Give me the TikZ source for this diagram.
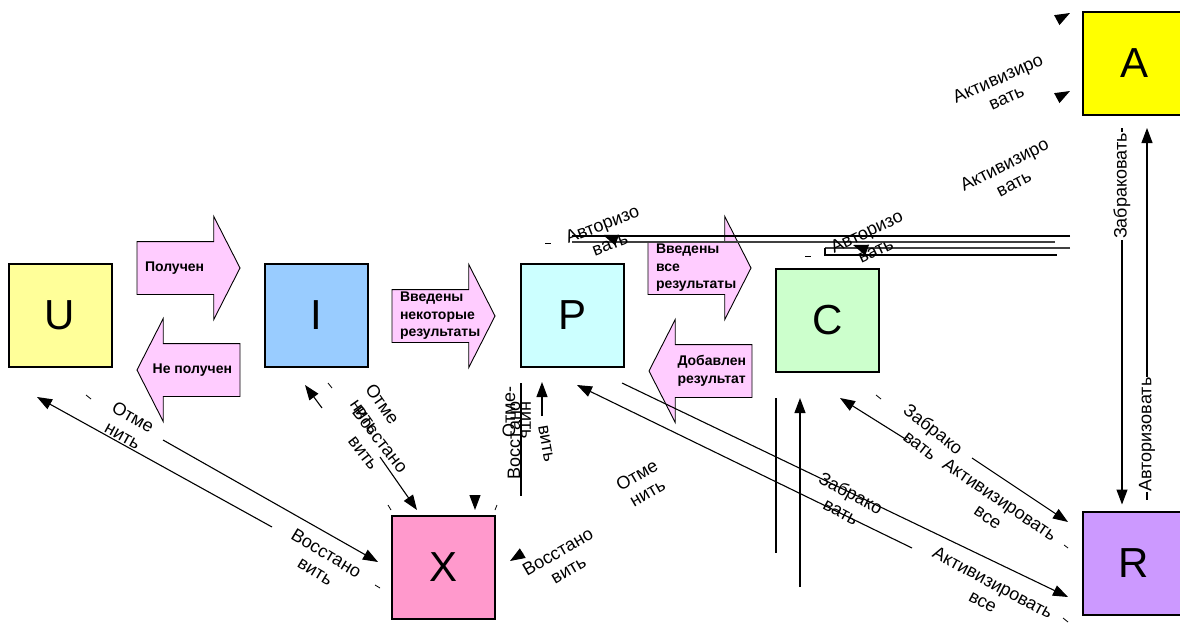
\documentclass[tikz,border=0pt]{standalone}
\usepackage{fontspec}
\setmainfont{Liberation Sans}
\usetikzlibrary{arrows.meta, shapes.arrows, positioning}
\definecolor{uyellow}{HTML}{FFFF99}
\definecolor{iblue}{HTML}{99CCFF}
\definecolor{pcyan}{HTML}{CCFFFF}
\definecolor{cgreen}{HTML}{CCFFCC}
\definecolor{ayellow}{HTML}{FFFF00}
\definecolor{rviolet}{HTML}{CC99FF}
\definecolor{xpink}{HTML}{FF99CC}
\definecolor{apink}{HTML}{FFCCFF}
\begin{document}
\begin{tikzpicture}[x=1pt, y=-1pt, inner sep=0pt, outer sep=0pt,
  state/.style={rectangle, draw=black, line width=2, minimum width=103, minimum height=103, font=\fontsize{42}{48}\selectfont},
  barrow/.style={single arrow, draw=black, line width=0.9, fill=apink, inner xsep=0pt, inner ysep=26pt, minimum height=103, single arrow head extend=25pt, single arrow tip angle=126, single arrow head indent=0pt, anchor=tip},
  btext/.style={align=left, font=\bfseries\fontsize{14}{17.5}\selectfont},
  lbl/.style={align=center, font=\fontsize{18}{21}\selectfont},
  conn/.style={line width=1.1, -{Triangle[length=15pt, width=11pt]}},
  wire/.style={line width=1.1},
  tick/.style={line width=0.8}]
\useasboundingbox (0,0) rectangle (1180,626);
% states
\node[state, fill=uyellow] (U) at (60,315.5) {U};
\node[state, fill=iblue] (I) at (316.5,315.5) {I};
\node[state, fill=pcyan] (P) at (572,315) {P};
\node[state, fill=cgreen] (C) at (827.5,320) {C};
\node[state, fill=ayellow] (A) at (1134,63.5) {A};
\node[state, fill=rviolet] (R) at (1134,563) {R};
\node[state, fill=xpink] (X) at (443.5,567) {X};
% block arrows
\node[barrow] (Got) at (240,268) {};
\node[barrow, shape border rotate=180] (NotGot) at (137,370) {};
\node[barrow] (SomeIn) at (495,316) {};
\node[barrow] (AllIn) at (751,268) {};
\node[barrow, shape border rotate=180] (Added) at (649,371) {};
\node[btext, right=8pt of Got.tail] (tGot) {Получен};
\node[btext, left=8pt of NotGot.tail] (tNotGot) {Не получен};
\node[btext, right=8pt of SomeIn.tail] (tSomeIn) {Введены\\некоторые\\результаты};
\node[btext, right=8pt of AllIn.tail] (tAllIn) {Введены\\все\\результаты};
\node[btext, left=6pt of Added.tail] (tAdded) {Добавлен\\результат};
% free ends
\coordinate (ux1) at (272,527); \coordinate (ux2) at (37,397);
\coordinate (ux3) at (163,440); \coordinate (ux4) at (378,562);
\coordinate (ix1) at (322,408); \coordinate (ix2) at (305,385);
\coordinate (ix3) at (380,457); \coordinate (ix4) at (417,510);
\coordinate (xt1) at (475,495); \coordinate (xt2) at (475,510);
\coordinate (xp1) at (521,383); \coordinate (xp2) at (521,496);
\coordinate (px1) at (542,416); \coordinate (px2) at (542,382);
\coordinate (xr1) at (523,553); \coordinate (xr2) at (510,561);
\coordinate (pr1) at (622,383); \coordinate (pr2) at (1068,597);
\coordinate (pr3) at (912,548); \coordinate (pr4) at (577,385);
\coordinate (cr1) at (907,440); \coordinate (cr2) at (840,398);
\coordinate (cr3) at (972,458); \coordinate (cr4) at (1068,522);
\coordinate (cv1) at (776,398); \coordinate (cv2) at (776,553);
\coordinate (cv3) at (800,587); \coordinate (cv4) at (800,398);
\coordinate (ta1) at (1070,236); \coordinate (ta2) at (572,236);
\coordinate (ta3) at (1055,242); \coordinate (ta4) at (572,242);
\coordinate (ta5) at (617,240); \coordinate (ta6) at (603,235);
\coordinate (tc1) at (1070,248); \coordinate (tc2) at (825,248);
\coordinate (tc3) at (1057,255); \coordinate (tc4) at (825,255);
\coordinate (tc5) at (867,250); \coordinate (tc6) at (853,245);
\coordinate (ra1) at (1057,20); \coordinate (ra2) at (1070,13);
\coordinate (ra3) at (1057,98); \coordinate (ra4) at (1070,91);
% connectors
\draw[conn] (ux1) -- (ux2);
\draw[conn] (ux3) -- (ux4);
\draw[conn] (ix1) -- (ix2);
\draw[conn] (ix3) -- (ix4);
\draw[conn] (xt1) -- (xt2);
\draw[wire] (xp1) -- (xp2);
\draw[conn] (px1) -- (px2);
\draw[conn] (xr1) -- (xr2);
\draw[conn] (pr1) -- (pr2);
\draw[conn] (pr3) -- (pr4);
\draw[conn] (cr1) -- (cr2);
\draw[conn] (cr3) -- (cr4);
\draw[wire] (cv1) -- (cv2);
\draw[conn] (cv3) -- (cv4);
\draw[wire] (ta1) -- (ta2);
\draw[wire, draw=black!75, line width=1.5] (ta3) -- (ta4);
\draw[conn] (ta5) -- (ta6);
\draw[wire, draw=black!75, line width=1.5] (tc1) -- (tc2);
\draw[wire] (tc2) -- (tc4) -- (tc3);
\draw[conn] (tc5) -- (tc6);
\draw[conn] (ra1) -- (ra2);
\draw[conn] (ra3) -- (ra4);
\draw[conn] ([xshift=-12pt, yshift=-13pt]A.south) -- ([xshift=-12pt, yshift=7pt]R.north)
  node[lbl, pos=0.154, rotate=90, fill=white, inner sep=1pt] (lAR) {Забраковать};
\draw[conn] ([xshift=13pt, yshift=12pt]R.north) -- ([xshift=13pt, yshift=-13pt]A.south)
  node[lbl, pos=0.175, rotate=90, fill=white, inner sep=1pt] (lRA) {Авторизовать};
% ticks
\draw[tick] (86,395) -- (91,399);
\draw[tick] (328,383) -- (332,388);
\draw[tick] (388,505) -- (391,510);
\draw[tick] (497,505) -- (495,510);
\draw[tick] (375,585) -- (380,588);
\draw[tick] (876,395) -- (881,399);
\draw[tick] (1064,545) -- (1068,548);
\draw[tick] (1063,618) -- (1068,622);
\draw[tick] (545,243) -- (551,243);
\draw[tick] (805,256) -- (811,256);
% labels
\node[lbl, rotate=-29] (lUX1) at (128,426) {Отме\\нить};
\node[lbl, rotate=-31] (lUX2) at (321,562) {Восстано\\вить};
\node[lbl, rotate=-55] (lIX1) at (374,410) {Отме\\нить};
\node[lbl, rotate=-52] (lIX2) at (372,446) {Восстано\\вить};
\node[lbl, rotate=90] (lPX1) at (509,412) {Отме-};
\node[lbl, rotate=90] (lPX2) at (514,440) {Восстано};
\node[lbl, rotate=-90] (lPX3) at (526,420) {нить};
\node[lbl, rotate=-80] (lPX4) at (546,444) {вить};
\node[lbl, rotate=30] (lXR) at (563,561) {Восстано\\вить};
\node[lbl, rotate=30] (lPR1) at (642,484) {Отме\\нить};
\node[lbl, rotate=-28] (lPR2) at (846,502) {Забрако\\вать};
\node[lbl, rotate=-28] (lPR3) at (988,592) {Активизировать\\все};
\node[lbl, rotate=-38] (lCR1) at (927,437) {Забрако\\вать};
\node[lbl, rotate=-34] (lCR2) at (994,508) {Активизировать\\все};
\node[lbl, rotate=21] (lTP) at (606,234) {Авторизо\\вать};
\node[lbl, rotate=25] (lTC) at (871,241) {Авторизо\\вать};
\node[lbl, rotate=24] (lA1) at (1002,88) {Активизиро\\вать};
\node[lbl, rotate=27] (lA2) at (1009,174) {Активизиро\\вать};
\end{tikzpicture}
\end{document}
